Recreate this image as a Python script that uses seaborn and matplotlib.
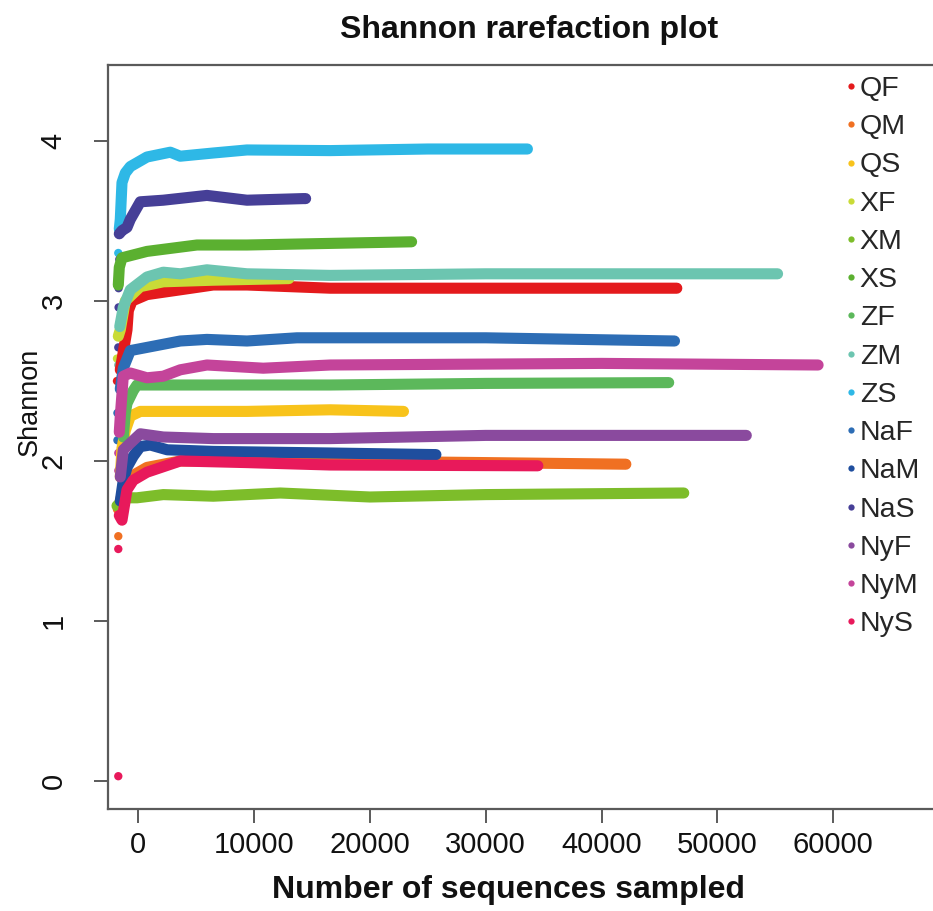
import numpy as np
import pandas as pd
import matplotlib
matplotlib.use("Agg")
import matplotlib.pyplot as plt
import seaborn as sns
from matplotlib.lines import Line2D

# ---------------- data ----------------
samples = ["QF", "QM", "QS", "XF", "XM", "XS", "ZF", "ZM", "ZS",
           "NaF", "NaM", "NaS", "NyF", "NyM", "NyS"]
colors = ["#E41A1C", "#F07022", "#F8C31B", "#C9DB37", "#7DBD2A", "#5BB030",
          "#5CB85B", "#6CC5B0", "#2EB8E6", "#2D6DB5", "#1F4E9E", "#463F97",
          "#8A4A9E", "#C4449A", "#E8195B"]

# rarefaction curves (sequences sampled, Shannon)
qf_x = [-1554, -975, -860, -540, 750, 3626, 6474, 9383, 16573, 30000, 46500]
qf_y = [2.57, 2.82, 2.94, 3.00, 3.04, 3.07, 3.10, 3.10, 3.08, 3.08, 3.08]
qm_x = [-1726, -1295, -691, 751, 3626, 16573, 30000, 42100]
qm_y = [1.70, 1.82, 1.90, 1.96, 2.00, 2.00, 1.99, 1.98]
qs_x = [-1554, -1407, -1122, -691, 173, 3626, 9383, 16573, 22900]
qs_y = [1.90, 2.08, 2.19, 2.28, 2.31, 2.31, 2.31, 2.32, 2.31]
xf_x = [-1726, -1554, -1122, 173, 2158, 6474, 13000]
xf_y = [2.78, 2.82, 3.00, 3.09, 3.12, 3.13, 3.14]
xm_x = [-1839, -975, -112, 2158, 6474, 12257, 20000, 30000, 47100]
xm_y = [1.72, 1.77, 1.77, 1.79, 1.78, 1.80, 1.775, 1.79, 1.80]
xs_x = [-1726, -1640, -1407, 751, 5067, 9383, 16573, 23600]
xs_y = [3.10, 3.21, 3.27, 3.31, 3.35, 3.35, 3.36, 3.37]
zf_x = [-1295, -1122, -975, -432, -112, 3626, 9383, 16573, 30000, 45800]
zf_y = [2.15, 2.30, 2.36, 2.44, 2.475, 2.475, 2.475, 2.475, 2.485, 2.49]
zm_x = [-1600, -1295, -691, 751, 2158, 3626, 5930, 9383, 16573, 30000, 55200]
zm_y = [2.84, 2.96, 3.07, 3.15, 3.18, 3.17, 3.195, 3.17, 3.16, 3.17, 3.17]
zs_x = [-1640, -1554, -1407, -1122, -691, 751, 2762, 3626, 6474, 9383, 16573, 25000, 33600]
zs_y = [3.45, 3.51, 3.74, 3.80, 3.84, 3.90, 3.93, 3.905, 3.925, 3.944, 3.94, 3.95, 3.95]
naf_x = [-1554, -1295, -691, 751, 3626, 5930, 9383, 13699, 30000, 46300]
naf_y = [2.45, 2.58, 2.69, 2.71, 2.75, 2.76, 2.75, 2.77, 2.77, 2.75]
nam_x = [-1554, -1295, -975, -432, 173, 1036, 2500, 6474, 16573, 25700]
nam_y = [1.75, 1.88, 1.96, 2.03, 2.09, 2.10, 2.07, 2.06, 2.05, 2.04]
nas_x = [-1640, -1407, -975, -691, 173, 2158, 5930, 9383, 14243, 14450]
nas_y = [3.42, 3.44, 3.46, 3.51, 3.62, 3.63, 3.66, 3.63, 3.64, 3.64]
nyf_x = [-1554, -1295, 173, 2158, 6474, 16573, 30000, 52500]
nyf_y = [1.90, 2.07, 2.17, 2.15, 2.14, 2.14, 2.16, 2.16]
nym_x = [-1640, -1554, -1295, -691, 751, 2158, 3626, 5930, 10790, 16573, 40000, 58700]
nym_y = [2.18, 2.28, 2.53, 2.55, 2.52, 2.53, 2.57, 2.60, 2.58, 2.60, 2.61, 2.60]
nys_x = [-1640, -1407, -975, -432, 751, 3626, 9383, 16573, 34500]
nys_y = [1.66, 1.63, 1.82, 1.88, 1.93, 2.00, 1.99, 1.975, 1.97]

# isolated first rarefaction points (very small depths)
dot_sample = ["QF", "QM", "XF", "ZS", "ZM", "ZM", "NaF", "NaF", "NaS", "NaS",
              "NaS", "NaS", "NyM", "NyM", "NyS", "NyS"]
dot_x = [-1839, -1726, -1839, -1726, -1726, -1726, -1800, -1800, -1726, -1700,
         -1700, -1640, -1726, -1726, -1726, -1726]
dot_y = [2.50, 1.53, 2.64, 3.30, 2.60, 2.78, 2.13, 2.30, 2.71, 2.96,
         3.08, 3.26, 1.94, 2.05, 1.45, 0.03]

x_ticks = [0, 10000, 20000, 30000, 40000, 50000, 60000]
y_ticks = [0, 1, 2, 3, 4]

curves = {"QF": (qf_x, qf_y), "QM": (qm_x, qm_y), "QS": (qs_x, qs_y),
          "XF": (xf_x, xf_y), "XM": (xm_x, xm_y), "XS": (xs_x, xs_y),
          "ZF": (zf_x, zf_y), "ZM": (zm_x, zm_y), "ZS": (zs_x, zs_y),
          "NaF": (naf_x, naf_y), "NaM": (nam_x, nam_y), "NaS": (nas_x, nas_y),
          "NyF": (nyf_x, nyf_y), "NyM": (nym_x, nym_y), "NyS": (nys_x, nys_y)}

rows = []
for s in samples:
    xs, ys = curves[s]
    for i, (a, b) in enumerate(zip(xs, ys)):
        rows.append({"sample": s, "x": a, "y": b, "i": i})
df = pd.DataFrame(rows)
dots = pd.DataFrame({"sample": dot_sample, "x": dot_x, "y": dot_y})
pal = dict(zip(samples, colors))

# ---------------- figure ----------------
sns.set_theme(style="white")
plt.rcParams["font.family"] = ["Liberation Sans", "DejaVu Sans"]

W, H = 933, 911
fig = plt.figure(figsize=(W / 100, H / 100), dpi=100)
ax = fig.add_axes([108 / W, (H - 809) / H, (1000 - 108) / W, (809 - 65) / H])

sns.lineplot(data=df, x="x", y="y", hue="sample", hue_order=samples,
             palette=pal, sort=False, estimator=None, linewidth=8,
             legend=False, ax=ax, solid_capstyle="round",
             solid_joinstyle="round")
sns.scatterplot(data=dots, x="x", y="y", hue="sample", hue_order=samples,
                palette=pal, s=36, edgecolor="none", legend=False, ax=ax)

ax.set_xlim(-2615, 74406)
ax.set_ylim(-0.175, 4.475)
ax.set_xticks(x_ticks)
ax.set_xticklabels([str(t) for t in x_ticks])
ax.set_yticks(y_ticks)
ax.set_yticklabels([str(t) for t in y_ticks])
ax.set_xlabel("")
ax.set_ylabel("")
for side in ["left", "top", "bottom"]:
    ax.spines[side].set_color("#5a5a5a")
    ax.spines[side].set_linewidth(1.6)
ax.spines["right"].set_visible(False)
ax.tick_params(axis="both", length=10, width=1.4, color="#5a5a5a",
               labelsize=21, labelcolor="#111111", direction="out")
ax.tick_params(axis="x", pad=6, bottom=True)
ax.tick_params(axis="y", pad=19, left=True, labelrotation=90)
for lab in ax.get_yticklabels():
    lab.set_va("center")

handles = [Line2D([0], [0], marker="o", ls="", color=c, markersize=4.5,
                  markeredgecolor="none") for c in colors]
ax.legend(handles, samples, loc="upper left",
          bbox_to_anchor=(847 / W, 1 - 76 / H), bbox_transform=fig.transFigure,
          frameon=False, fontsize=20.5, handlelength=0.3, handletextpad=0.15,
          labelspacing=0.43, borderpad=0, borderaxespad=0)

fig.text(529 / W, 1 - 30 / H, "Shannon rarefaction plot", ha="center",
         va="center", fontsize=23, fontweight="bold", color="#111111")
fig.text(508 / W, 1 - 890 / H, "Number of sequences sampled", ha="center",
         va="center", fontsize=23, fontweight="bold", color="#111111")
fig.text(30 / W, 1 - 402 / H, "Shannon", ha="center", va="center",
         rotation=90, fontsize=19.5, color="#111111")

fig.savefig("out.png", dpi=100)
